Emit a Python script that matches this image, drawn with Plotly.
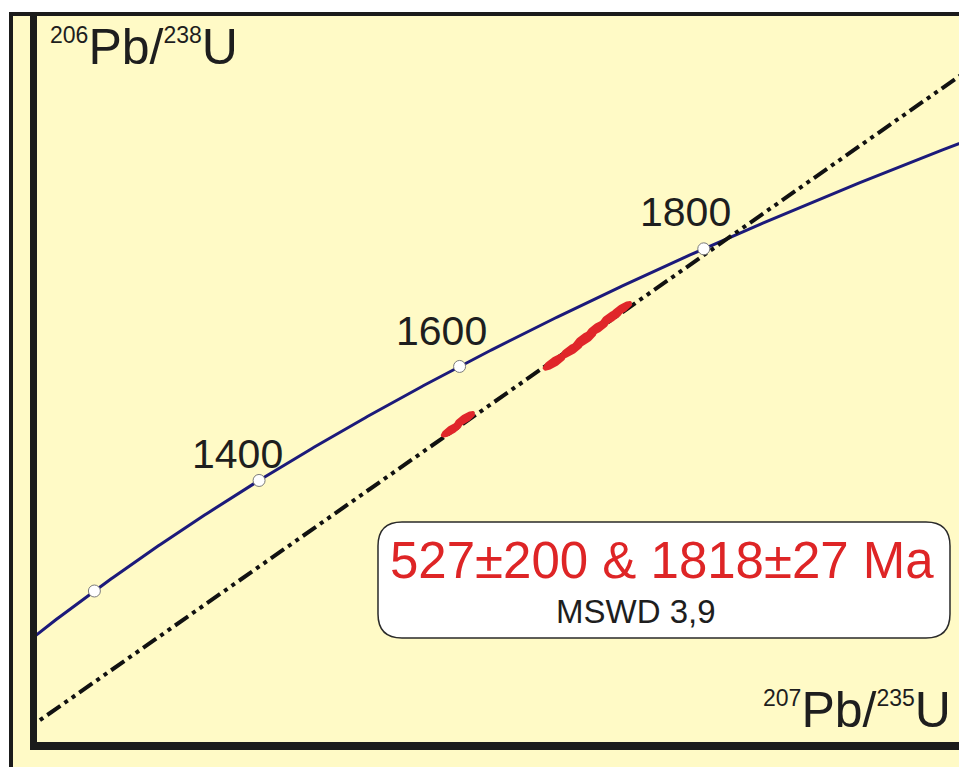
import numpy as np
import plotly.graph_objects as go

# ---- data ----
LAMBDA_238 = 1.55125e-4   # 1/Ma
LAMBDA_235 = 9.8485e-4    # 1/Ma
marker_ages = [1200, 1400, 1600, 1800]
label_ages = ["", "1400", "1600", "1800"]
intercept_ages = [527, 1818]          # Ma, lower & upper intercepts
spot_x = [3.800, 3.856, 4.244, 4.318, 4.374, 4.430, 4.490, 4.533]   # 207Pb/235U
spot_y = [0.2600, 0.2637, 0.2833, 0.2875, 0.2912, 0.2950, 0.2988, 0.3015]  # 206Pb/238U
spot_sx = [0.040, 0.040, 0.045, 0.045, 0.045, 0.045, 0.045, 0.040]
spot_sy = [0.0022, 0.0022, 0.0025, 0.0025, 0.0026, 0.0025, 0.0025, 0.0022]
spot_rho = [0.85, 0.85, 0.85, 0.85, 0.82, 0.85, 0.85, 0.85]
result_text = "527±200 & 1818±27 Ma"
mswd_text = "MSWD 3,9"

X_RANGE = [2.0, 5.987]
Y_RANGE = [0.15, 0.40]

# ---- layout geometry (pixels) ----
W, H = 959, 767
PL, PR, PT, PB = 34, 959, 22, 750

def fx(px):
    return (px - PL) / (PR - PL)

def fy(py):
    return (PB - py) / (PB - PT)

def conc(t):
    t = np.asarray(t, dtype=float)
    return np.exp(LAMBDA_235 * t) - 1, np.exp(LAMBDA_238 * t) - 1

fig = go.Figure()

# concordia curve
t_curve = np.linspace(1000, 2200, 600)
cx, cy = conc(t_curve)
fig.add_trace(go.Scatter(x=cx, y=cy, mode="lines",
                         line=dict(color="#1c1a7a", width=3), hoverinfo="skip"))

# discordia
ix, iy = conc(intercept_ages)
slope = (iy[1] - iy[0]) / (ix[1] - ix[0])
dx = [ix[0], X_RANGE[1] + 0.5]
dy = [iy[0], iy[0] + slope * (dx[1] - ix[0])]
fig.add_trace(go.Scatter(x=dx, y=dy, mode="lines",
                         line=dict(color="#111111", width=4,
                                   dash="16px,5px,4px,5px,4px,5px"),
                         hoverinfo="skip"))

# error ellipses
th = np.linspace(0, 2 * np.pi, 80)
for x0, y0, sx, sy, r in zip(spot_x, spot_y, spot_sx, spot_sy, spot_rho):
    cov = np.array([[sx * sx, r * sx * sy], [r * sx * sy, sy * sy]])
    L = np.linalg.cholesky(cov)
    pts = L @ np.vstack([np.cos(th), np.sin(th)])
    fig.add_trace(go.Scatter(x=x0 + pts[0], y=y0 + pts[1], mode="lines",
                             fill="toself", fillcolor="#e0262a",
                             line=dict(color="#e0262a", width=3),
                             hoverinfo="skip"))

# concordia age markers
mx, my = conc(marker_ages)
fig.add_trace(go.Scatter(x=mx, y=my, mode="markers",
                         marker=dict(size=12, color="white",
                                     line=dict(color="#7a7a7a", width=1)),
                         hoverinfo="skip"))

FONT = "Liberation Sans, Arial"
label_shift = [(0, 0), (-22, 26), (-18, 35), (-18, 37)]
for xx, yy, lab, (sx_, sy_) in zip(mx, my, label_ages, label_shift):
    if lab:
        fig.add_annotation(x=xx, y=yy, text=lab, showarrow=False,
                           xanchor="center", yanchor="middle",
                           xshift=sx_, yshift=sy_,
                           font=dict(family=FONT, size=41, color="#1e1e1e"))

shapes = []
# yellow panel
shapes.append(dict(type="rect", xref="paper", yref="paper", layer="below",
                   x0=fx(11), x1=fx(965), y0=fy(14), y1=fy(775),
                   fillcolor="#fffac6", line=dict(width=0)))
# outer frame
shapes.append(dict(type="line", xref="paper", yref="paper", layer="above",
                   x0=fx(9), x1=fx(965), y0=fy(14), y1=fy(14),
                   line=dict(color="#1b1b1b", width=4)))
shapes.append(dict(type="line", xref="paper", yref="paper", layer="above",
                   x0=fx(11), x1=fx(11), y0=fy(12), y1=fy(775),
                   line=dict(color="#1b1b1b", width=4)))
# axes
shapes.append(dict(type="line", xref="paper", yref="paper", layer="above",
                   x0=fx(33.5), x1=fx(33.5), y0=fy(14), y1=fy(750),
                   line=dict(color="#1b1b1b", width=7)))
shapes.append(dict(type="line", xref="paper", yref="paper", layer="above",
                   x0=fx(30), x1=fx(965), y0=fy(746), y1=fy(746),
                   line=dict(color="#1b1b1b", width=8)))

# rounded result box
bx0, bx1, by0, by1, rad = 378, 950, 522, 638, 24
def P(px, py):
    return f"{fx(px):.5f},{fy(py):.5f}"
path = (f"M {P(bx0 + rad, by0)} L {P(bx1 - rad, by0)} Q {P(bx1, by0)} {P(bx1, by0 + rad)} "
        f"L {P(bx1, by1 - rad)} Q {P(bx1, by1)} {P(bx1 - rad, by1)} "
        f"L {P(bx0 + rad, by1)} Q {P(bx0, by1)} {P(bx0, by1 - rad)} "
        f"L {P(bx0, by0 + rad)} Q {P(bx0, by0)} {P(bx0 + rad, by0)} Z")
shapes.append(dict(type="path", xref="paper", yref="paper", layer="above", path=path,
                   fillcolor="white", line=dict(color="#2a2a2a", width=1.5)))

fig.update_layout(shapes=shapes)

fig.add_annotation(xref="paper", yref="paper", x=fx(662), y=fy(560), text=result_text,
                   xanchor="center", yanchor="middle",
                   showarrow=False, font=dict(family=FONT, size=51, color="#de2526"))
fig.add_annotation(xref="paper", yref="paper", x=fx(636), y=fy(611), text=mswd_text,
                   xanchor="center", yanchor="middle",
                   showarrow=False, font=dict(family=FONT, size=33, color="#1e1e1e"))

sup = "<sup><span style='font-size:23px'>{}</span></sup>"
fig.add_annotation(xref="paper", yref="paper", x=fx(48), y=fy(17), xanchor="left", yanchor="top",
                   text=sup.format("206") + "Pb/" + sup.format("238") + "U",
                   showarrow=False, font=dict(family=FONT, size=50, color="#1e1e1e"))
fig.add_annotation(xref="paper", yref="paper", x=fx(953), y=fy(740), xanchor="right", yanchor="bottom",
                   text=sup.format("207") + "Pb/" + sup.format("235") + "U",
                   showarrow=False, font=dict(family=FONT, size=50, color="#1e1e1e"))

fig.update_xaxes(range=X_RANGE, visible=False)
fig.update_yaxes(range=Y_RANGE, visible=False)
fig.update_layout(width=W, height=H, showlegend=False,
                  margin=dict(l=PL, r=W - PR, t=PT, b=H - PB),
                  paper_bgcolor="white", plot_bgcolor="rgba(0,0,0,0)")

fig.write_html("out.html")
